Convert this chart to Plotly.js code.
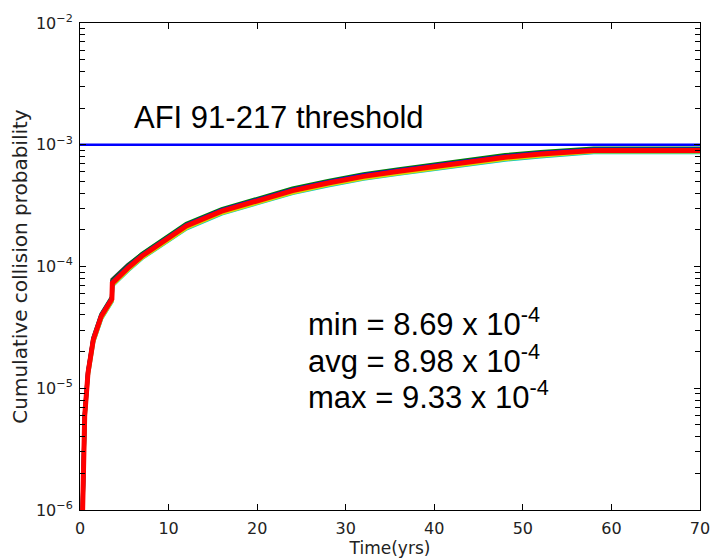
<!DOCTYPE html>
<html>
<head>
<meta charset="utf-8">
<script src="https://cdn.plot.ly/plotly-3.0.1.min.js"></script>
<style>html,body{margin:0;padding:0;background:#fff;}#chart{width:710px;height:560px;}</style>
</head>
<body>
<div id="chart"></div>
<script>
// Time (years)
const timeYrs = [0.25,0.35,0.53,0.9,1.5,2.4,3.35,3.6,3.65,4.5,5.4,7,8.8,12,16,20,24,28,32,36,40,44,48,52,56,58,62,66,70];
// Cumulative collision probability, several runs
const runBlack  = [7e-7,1.5e-6,5.9e-6,1.33e-5,2.5e-5,3.9e-5,5.1e-5,5.5e-5,7.8e-5,9.0e-5,1.03e-4,1.26e-4,1.52e-4,2.17e-4,2.87e-4,3.47e-4,4.22e-4,4.87e-4,5.52e-4,6.07e-4,6.62e-4,7.32e-4,7.92e-4,8.42e-4,8.87e-4,9.0e-4,9.0e-4,9.0e-4,9.0e-4];
const runCyan   = [6.7e-7,1.43e-6,5.6e-6,1.27e-5,2.39e-5,3.72e-5,4.87e-5,5.16e-5,6.97e-5,8.02e-5,9.26e-5,1.17e-4,1.43e-4,2.05e-4,2.72e-4,3.29e-4,4.01e-4,4.63e-4,5.25e-4,5.78e-4,6.3e-4,6.97e-4,7.54e-4,8.02e-4,8.45e-4,8.69e-4,8.69e-4,8.69e-4,8.69e-4];
const runYellow = [6.8e-7,1.45e-6,5.7e-6,1.28e-5,2.41e-5,3.76e-5,4.92e-5,5.21e-5,7.04e-5,8.1e-5,9.36e-5,1.18e-4,1.45e-4,2.07e-4,2.75e-4,3.33e-4,4.05e-4,4.68e-4,5.31e-4,5.84e-4,6.37e-4,7.04e-4,7.62e-4,8.11e-4,8.54e-4,8.8e-4,8.8e-4,8.8e-4,8.8e-4];
const runGreen  = [7.3e-7,1.56e-6,6.1e-6,1.38e-5,2.6e-5,4.05e-5,5.3e-5,5.6e-5,7.6e-5,8.75e-5,1.01e-4,1.27e-4,1.56e-4,2.24e-4,2.96e-4,3.59e-4,4.37e-4,5.04e-4,5.72e-4,6.29e-4,6.86e-4,7.59e-4,8.22e-4,8.74e-4,9.2e-4,9.33e-4,9.33e-4,9.33e-4,9.33e-4];
const runBlue   = [7.1e-7,1.53e-6,6.0e-6,1.36e-5,2.55e-5,3.98e-5,5.2e-5,5.5e-5,7.45e-5,8.57e-5,9.89e-5,1.24e-4,1.53e-4,2.19e-4,2.91e-4,3.52e-4,4.28e-4,4.95e-4,5.61e-4,6.17e-4,6.73e-4,7.45e-4,8.06e-4,8.57e-4,9.03e-4,9.16e-4,9.16e-4,9.16e-4,9.16e-4];
const runRed    = [7e-7,1.5e-6,5.9e-6,1.33e-5,2.5e-5,3.9e-5,5.1e-5,5.4e-5,7.3e-5,8.4e-5,9.7e-5,1.22e-4,1.5e-4,2.15e-4,2.85e-4,3.45e-4,4.2e-4,4.85e-4,5.5e-4,6.05e-4,6.6e-4,7.3e-4,7.9e-4,8.4e-4,8.85e-4,8.98e-4,8.98e-4,8.98e-4,8.98e-4];
// Threshold
const thresholdX = [0, 70];
const thresholdY = [1e-3, 1e-3];
// Axis ticks
const xTicks = [0,10,20,30,40,50,60,70];
const yTickVals = [1e-6,1e-5,1e-4,1e-3,1e-2];
const yTickText = ['10<sup>\u22126</sup>','10<sup>\u22125</sup>','10<sup>\u22124</sup>','10<sup>\u22123</sup>','10<sup>\u22122</sup>'];
const yMinorTicks = [2e-6,3e-6,4e-6,5e-6,6e-6,7e-6,8e-6,9e-6,
  2e-5,3e-5,4e-5,5e-5,6e-5,7e-5,8e-5,9e-5,
  2e-4,3e-4,4e-4,5e-4,6e-4,7e-4,8e-4,9e-4,
  2e-3,3e-3,4e-3,5e-3,6e-3,7e-3,8e-3,9e-3];

const runs = [
  {y: runBlack, c: '#333333'},
  {y: runCyan, c: '#00c8c8'},
  {y: runYellow, c: '#d8d800'},
  {y: runGreen, c: '#008000'},
  {y: runBlue, c: '#0000ff'},
  {y: runRed, c: '#ff0000'}
];
const traces = runs.map((r, i) => ({
  x: timeYrs, y: r.y, type: 'scatter', mode: 'lines',
  line: {color: r.c, width: i === runs.length - 1 ? 5 : 4},
  hoverinfo: 'skip', showlegend: false
}));
traces.push({
  x: thresholdX, y: thresholdY, type: 'scatter', mode: 'lines',
  line: {color: '#0000ff', width: 2.5}, showlegend: false, hoverinfo: 'skip'
});

const txtFam = '"Liberation Sans", Arial, sans-serif';
const axFam = '"DejaVu Sans", sans-serif';
const layout = {
  width: 710, height: 560,
  margin: {l: 80, r: 10, t: 23, b: 50},
  paper_bgcolor: '#fff', plot_bgcolor: '#fff',
  showlegend: false,
  font: {family: axFam, color: '#000'},
  xaxis: {
    range: [0, 70], tickmode: 'array', tickvals: xTicks, ticktext: xTicks.map(String),
    ticks: 'inside', ticklen: 6, tickwidth: 1, tickcolor: '#000',
    showline: true, linecolor: '#000', linewidth: 1, mirror: 'ticks',
    showgrid: false, zeroline: false, ticklabelstandoff: 4, ticklabeloverflow: 'allow',
    tickfont: {size: 16, color: '#222', family: axFam},
    title: {text: 'Time(yrs)', font: {size: 17, color: '#222', family: axFam}, standoff: 2}
  },
  yaxis: {
    type: 'log', range: [-6, -2], tickmode: 'array',
    tickvals: yTickVals, ticktext: yTickText,
    ticks: 'inside', ticklen: 6, tickwidth: 1, tickcolor: '#000',
    showline: true, linecolor: '#000', linewidth: 1, mirror: 'ticks',
    minor: {ticks: 'inside', ticklen: 5, tickwidth: 1, tickcolor: '#000', tickmode: 'array', tickvals: yMinorTicks, showgrid: false},
    showgrid: false, zeroline: false, ticklabelstandoff: 3, ticklabeloverflow: 'allow',
    tickfont: {size: 16, color: '#222', family: axFam},
    title: {text: 'Cumulative collision probability', font: {size: 20, color: '#222', family: axFam}, standoff: 2}
  },
  annotations: [
    {x: 5.9, y: Math.log10(1.66e-3), xref: 'x', yref: 'y', text: 'AFI 91-217 threshold',
     showarrow: false, xanchor: 'left', yanchor: 'middle', font: {size: 31, color: '#000', family: txtFam}},
    {x: 25.5, y: Math.log10(3.48e-5), xref: 'x', yref: 'y', text: 'min = 8.69 x 10<sup>-4</sup>',
     showarrow: false, xanchor: 'left', yanchor: 'middle', font: {size: 31, color: '#000', family: txtFam}},
    {x: 25.5, y: Math.log10(1.73e-5), xref: 'x', yref: 'y', text: 'avg = 8.98 x 10<sup>-4</sup>',
     showarrow: false, xanchor: 'left', yanchor: 'middle', font: {size: 31, color: '#000', family: txtFam}},
    {x: 25.5, y: Math.log10(8.75e-6), xref: 'x', yref: 'y', text: 'max = 9.33 x 10<sup>-4</sup>',
     showarrow: false, xanchor: 'left', yanchor: 'middle', font: {size: 31, color: '#000', family: txtFam}}
  ]
};
Plotly.newPlot('chart', traces, layout, {displayModeBar: false, staticPlot: true});
</script>
</body>
</html>
